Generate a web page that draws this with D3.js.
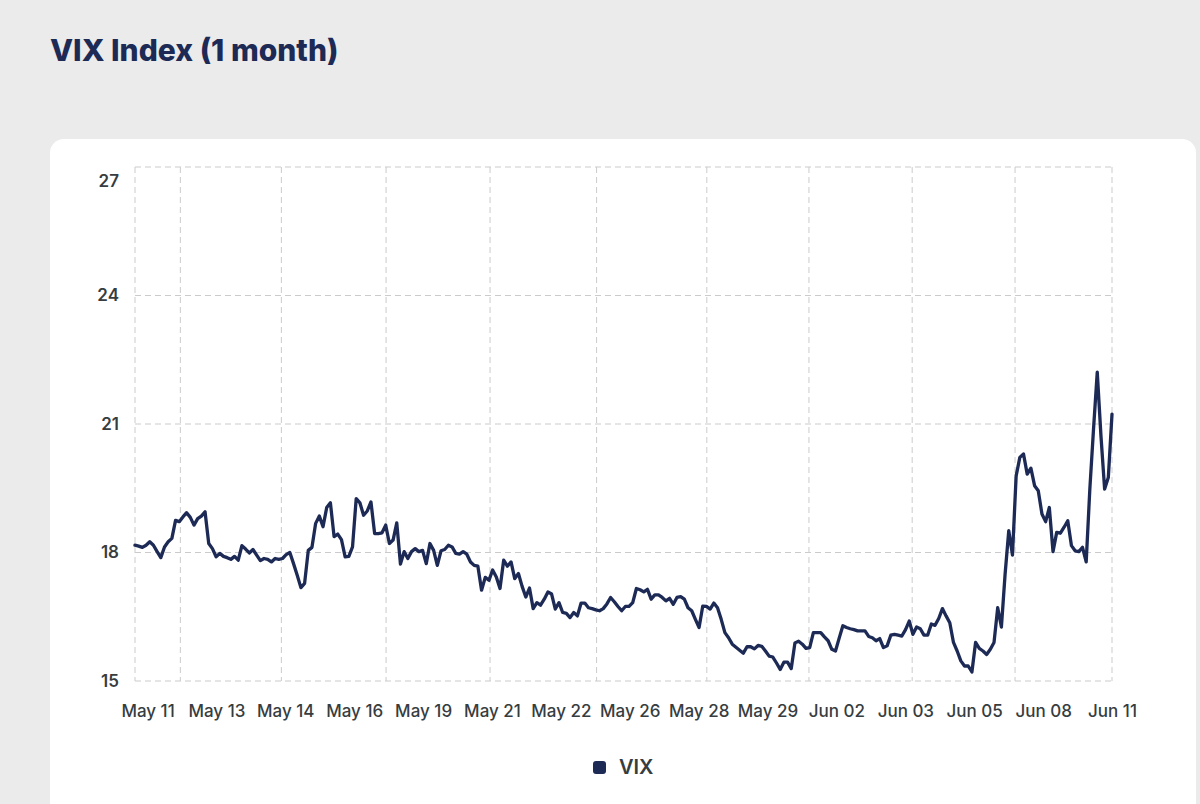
<!DOCTYPE html>
<html>
<head>
<meta charset="utf-8">
<script src="https://cdn.jsdelivr.net/npm/d3@7"></script>
<style>
  body { margin: 0; background: #ebebeb; }
  svg { display: block; }
</style>
</head>
<body>
<svg id="chart"></svg>
<script>
// x axis labels (evenly spread, not tied to the grid lines)
const xLabels = ['May 11', 'May 13', 'May 14', 'May 16', 'May 19', 'May 21', 'May 22', 'May 26',
    'May 28', 'May 29', 'Jun 02', 'Jun 03', 'Jun 05', 'Jun 08', 'Jun 11'];
const yTicks = [15, 18, 21, 24, 27];

// VIX readings, one per sample
const vixValues = [
    18.17, 18.15, 18.12, 18.17, 18.25, 18.17, 18.02, 17.88, 18.13, 18.25, 18.33, 18.75, 18.72, 18.83,
    18.93, 18.82, 18.64, 18.79, 18.85, 18.95, 18.21, 18.09, 17.90, 17.98, 17.91, 17.88, 17.84, 17.91,
    17.82, 18.16, 18.08, 17.99, 18.07, 17.94, 17.81, 17.86, 17.84, 17.78, 17.86, 17.84, 17.86, 17.95,
    18.00, 17.74, 17.47, 17.18, 17.28, 18.05, 18.12, 18.68, 18.85, 18.60, 19.05,
    19.16, 18.37, 18.43, 18.30, 17.90, 17.91, 18.13, 19.26, 19.16, 18.87, 18.97, 19.18, 18.44, 18.44,
    18.46, 18.64, 18.21, 18.29, 18.69, 17.73, 18.02, 17.86, 18.02, 18.09, 18.02, 18.05, 17.74, 18.21,
    18.05, 17.70, 18.04, 18.07, 18.17, 18.13, 17.98, 17.96, 18.02, 17.96, 17.78, 17.70, 17.68, 17.12,
    17.42, 17.35, 17.59, 17.43, 17.16, 17.82, 17.68, 17.78, 17.39, 17.51,
    17.21, 16.96, 17.17, 16.69, 16.83, 16.77, 16.91, 17.08, 17.03, 16.68, 16.83, 16.60, 16.58, 16.48,
    16.60, 16.52, 16.82, 16.82, 16.71, 16.69, 16.66, 16.64, 16.69, 16.80, 16.95, 16.85, 16.74, 16.64,
    16.74, 16.74, 16.83, 17.16, 17.13, 17.08, 17.14, 16.91, 17.01, 17.01, 16.95, 16.87, 16.93, 16.79,
    16.95, 16.97, 16.91, 16.71, 16.64, 16.44, 16.25, 16.75, 16.74, 16.68, 16.82, 16.71, 16.44, 16.13,
    16.01, 15.86, 15.79, 15.72, 15.65, 15.80, 15.80, 15.75, 15.83, 15.81, 15.70, 15.58, 15.56, 15.42,
    15.27, 15.44, 15.44, 15.29, 15.89, 15.93, 15.86, 15.76, 15.78, 16.13, 16.13,
    16.13, 16.03, 15.94, 15.74, 15.70, 16.00, 16.29, 16.25, 16.22, 16.20, 16.17, 16.17, 16.17, 16.04,
    16.01, 15.94, 15.99, 15.78, 15.82, 16.07, 16.09, 16.07, 16.05, 16.20, 16.40, 16.09, 16.26, 16.22,
    16.07, 16.07, 16.33, 16.30, 16.46, 16.69, 16.52, 16.36, 15.90, 15.70, 15.47, 15.35, 15.35, 15.21,
    15.90, 15.76, 15.70, 15.62, 15.74, 15.90, 16.71, 16.26, 17.49, 18.51, 17.94, 19.79, 20.22, 20.30,
    19.83, 19.97, 19.56, 19.44, 18.90, 18.72, 19.05, 18.02, 18.47, 18.45, 18.59, 18.74, 18.16, 18.04,
    18.02, 18.12, 17.78, 19.50, 20.90, 22.21, 20.73, 19.48, 19.75, 21.23
];

// sample index where each vertical grid line falls
const gridIndex = [12.3, 39.7, 68.1, 96.3, 125.2, 155.1, 182.8, 210.8, 238.7];
// sample index under the first x label (the last label sits on the last sample)
const firstLabelIndex = 3.4;

const width = 1200;
const height = 804;
const plot = { left: 135, right: 1112, top: 167, bottom: 681 };
const navy = '#1c2a55';
const textGrey = '#373d3f';
const gridGrey = '#cbcbcb';

const svg = d3.select('#chart')
    .attr('width', width)
    .attr('height', height)
    .style('font-family', 'Inter, sans-serif');

svg.append('rect')
    .attr('width', width)
    .attr('height', height)
    .attr('fill', '#ebebeb');

svg.append('text')
    .attr('x', 50)
    .attr('y', 61)
    .attr('fill', navy)
    .style('font-size', '30px')
    .style('font-weight', 800)
    .text('VIX Index (1 month)');

// white card
svg.append('rect')
    .attr('x', 50)
    .attr('y', 139)
    .attr('width', 1146)
    .attr('height', 720)
    .attr('rx', 14)
    .attr('fill', '#fff');

const xScale = d3.scaleLinear()
    .domain([0, vixValues.length - 1])
    .range([plot.left, plot.right]);
const yScale = d3.scaleLinear()
    .domain([d3.min(yTicks), d3.max(yTicks)])
    .range([plot.bottom, plot.top]);

// grid
const grid = svg.append('g')
    .attr('stroke', gridGrey)
    .attr('stroke-width', 1)
    .attr('stroke-dasharray', '6,4');

grid.selectAll('.h-grid')
    .data(yTicks)
    .enter().append('line')
    .attr('class', 'h-grid')
    .attr('x1', plot.left)
    .attr('x2', plot.right)
    .attr('y1', d => yScale(d))
    .attr('y2', d => yScale(d));

grid.selectAll('.v-grid')
    .data([0, ...gridIndex, vixValues.length - 1])
    .enter().append('line')
    .attr('class', 'v-grid')
    .attr('x1', d => xScale(d))
    .attr('x2', d => xScale(d))
    .attr('y1', plot.top)
    .attr('y2', plot.bottom);

// y axis labels
const yAxis = d3.axisLeft(yScale)
    .tickValues(yTicks)
    .tickSize(0)
    .tickPadding(16)
    .tickFormat(d3.format('d'));

const yAxisG = svg.append('g')
    .attr('transform', `translate(${plot.left},0)`)
    .call(yAxis);
yAxisG.select('.domain').remove();
yAxisG.selectAll('text')
    .attr('fill', textGrey)
    .style('font-family', 'Inter, sans-serif')
    .style('font-size', '17px')
    .style('font-weight', 600);
// the top label is pushed inside the plot like the original
yAxisG.selectAll('.tick')
    .filter(d => d === d3.max(yTicks))
    .select('text')
    .attr('dy', '1.15em');

// x axis labels
const labelScale = d3.scalePoint()
    .domain(xLabels)
    .range([xScale(firstLabelIndex), xScale(vixValues.length - 1)]);

const xAxisG = svg.append('g')
    .attr('transform', `translate(0,${plot.bottom})`)
    .call(d3.axisBottom(labelScale).tickSize(0).tickPadding(24));
xAxisG.select('.domain').remove();
xAxisG.selectAll('text')
    .attr('fill', textGrey)
    .style('font-family', 'Inter, sans-serif')
    .style('font-size', '17px')
    .style('font-weight', 500);

// the series
const line = d3.line()
    .x((d, i) => xScale(i))
    .y(d => yScale(d));

svg.append('path')
    .datum(vixValues)
    .attr('fill', 'none')
    .attr('stroke', navy)
    .attr('stroke-width', 3.3)
    .attr('stroke-linejoin', 'round')
    .attr('stroke-linecap', 'round')
    .attr('d', line);

// legend
const legend = svg.append('g')
    .attr('transform', 'translate(593,761)');
legend.append('rect')
    .attr('width', 13)
    .attr('height', 13)
    .attr('rx', 3)
    .attr('fill', navy);
legend.append('text')
    .attr('x', 26)
    .attr('y', 13)
    .attr('fill', textGrey)
    .style('font-size', '20px')
    .style('font-weight', 600)
    .text('VIX');
</script>
</body>
</html>
